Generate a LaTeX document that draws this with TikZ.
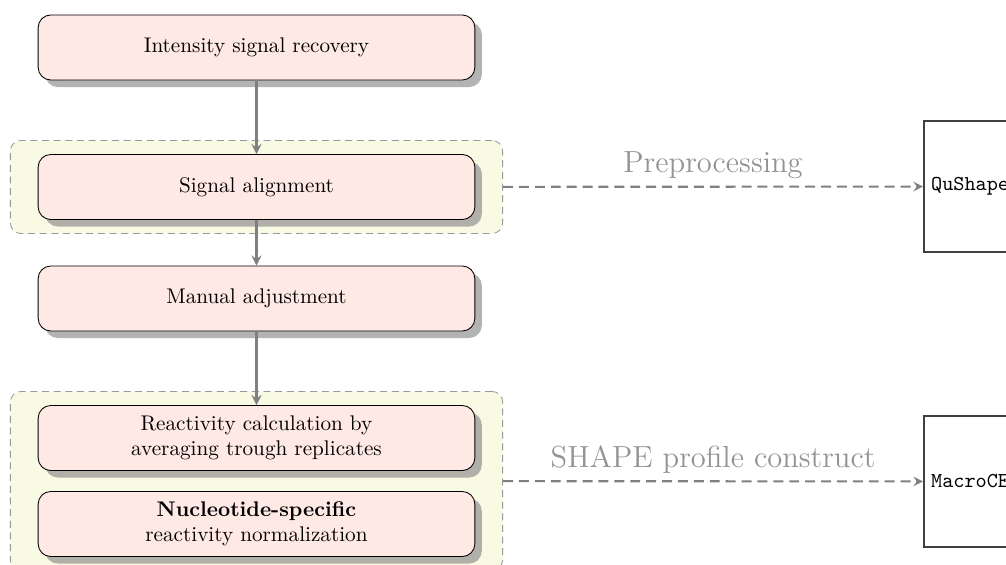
\documentclass[tikz,border=0pt]{standalone}
\usetikzlibrary{positioning,fit,shadows,backgrounds}
\definecolor{stepfill}{RGB}{255,233,228}
\definecolor{groupfill}{RGB}{248,250,228}
\begin{document}
\begin{tikzpicture}[>=stealth, x=0.4717pt, y=-0.4717pt,
		stage/.style={draw, rounded corners=6pt, fill=stepfill, minimum width=206pt,
				minimum height=30.7pt, align=center,
				drop shadow={shadow xshift=3.3pt, shadow yshift=-3.3pt, opacity=0.6}},
		group/.style={draw=gray!80, dash pattern=on 3.3pt off 2.2pt, rounded corners=5pt,
				fill=groupfill, inner xsep=12.9pt, inner ysep=6.4pt},
		tool/.style={draw=black!75, line width=0.7pt, anchor=west, minimum height=61.8pt,
				text width=90pt, inner sep=3.5pt, font=\ttfamily},
		flow/.style={->, line width=1.1pt, gray},
		link/.style={->, line width=1pt, gray, dash pattern=on 4.7pt off 2.8pt}]
	\useasboundingbox (0,0) rectangle (1006,565);
	\clip (0,0) rectangle (1006,565);

	% processing steps
	\node[stage] (recovery) at (256.5,47.5) {Intensity signal recovery};
	\node[stage] (align) at (256.5,187) {Signal alignment};
	\node[stage] (manual) at (256.5,298.5) {Manual adjustment};
	\node[stage] (calc) at (256.5,438) {Reactivity calculation by\\averaging trough replicates};
	\node[stage] (norm) at (256.5,524) {\textbf{Nucleotide-specific}\\reactivity normalization};

	\begin{scope}[on background layer]
		\node[group, fit=(align)] (pre) {};
		\node[group, fit=(calc)(norm)] (post) {};
	\end{scope}

	% software
	\node[tool] (qushape) at (923,186.5) {QuShape};
	\node[tool] (macroce) at (923,481.5) {MacroCE};

	\draw[flow] (recovery) -- (align);
	\draw[flow] (align) -- (manual);
	\draw[flow] (manual) -- (calc);
	\draw[link] (pre) -- node[above, font=\Large, text=gray!85] {Preprocessing} (qushape);
	\draw[link] (post) -- node[above, font=\Large, text=gray!85] {SHAPE profile construct} (macroce);
\end{tikzpicture}
\end{document}
